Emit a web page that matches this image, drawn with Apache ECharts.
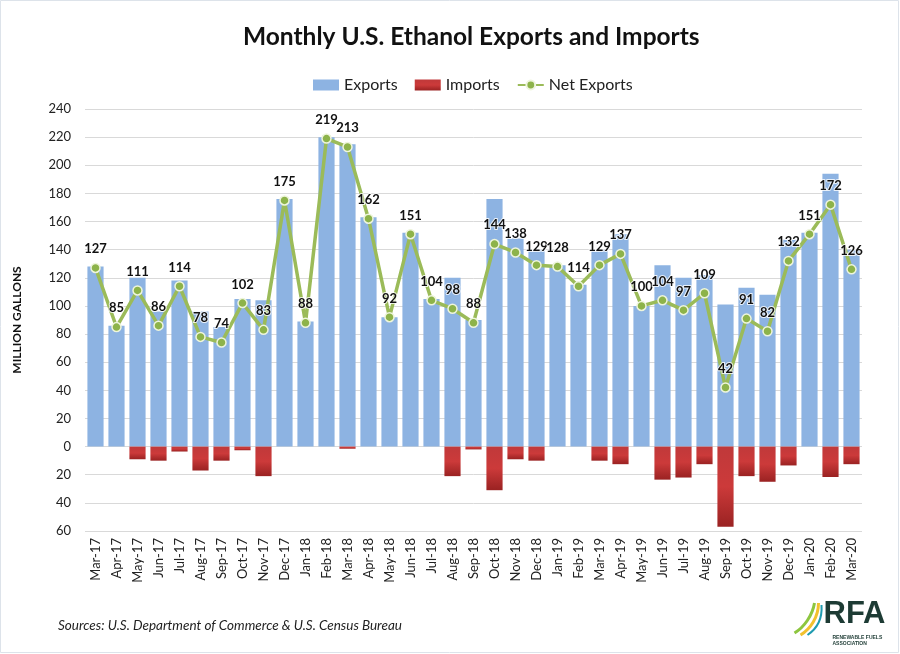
<!DOCTYPE html>
<html>
<head>
<meta charset="utf-8">
<script src="https://cdn.jsdelivr.net/npm/echarts@6/dist/echarts.min.js"></script>
<style>
html,body{margin:0;padding:0;background:#fff;}
#c{width:900px;height:654px;}
</style>
</head>
<body>
<div id="c"></div>
<script>
const months = ["Mar-17","Apr-17","May-17","Jun-17","Jul-17","Aug-17","Sep-17","Oct-17","Nov-17","Dec-17","Jan-18","Feb-18","Mar-18","Apr-18","May-18","Jun-18","Jul-18","Aug-18","Sep-18","Oct-18","Nov-18","Dec-18","Jan-19","Feb-19","Mar-19","Apr-19","May-19","Jun-19","Jul-19","Aug-19","Sep-19","Oct-19","Nov-19","Dec-19","Jan-20","Feb-20","Mar-20"];
const exportsData = [128,86,120,96,118,96,85,105,104,176,89,220,215,163,92,152,105,120,90,176,148,140,129,115,140,151,100,129,120,122,101,113,108,147,152,194,140];
const importsData = [0,0,-9,-10,-3.5,-17,-10,-2.6,-21,0,0,0,-1.5,0,0,0,0,-21,-2,-31,-9,-10,0,0,-10,-12.5,0,-23.5,-22,-12.5,-57,-21,-25,-13.4,0,-21.6,-12.5];
const netExports = [127,85,111,86,114,78,74,102,83,175,88,219,213,162,92,151,104,98,88,144,138,129,128,114,129,137,100,104,97,109,42,91,82,132,151,172,126];
const yTicks = {min:-60, max:240, interval:20};

const chart = echarts.init(document.getElementById('c'), null, {renderer:'canvas'});
const FONT = 'Lato, "Open Sans", sans-serif';
chart.setOption({
  backgroundColor:'#fff',
  animation:false,
  title:{
    text:'Monthly U.S. Ethanol Exports and Imports',
    left:238, top:20,
    textStyle:{fontFamily:FONT, fontWeight:'bold', fontSize:24.5, color:'#111'}
  },
  legend:{
    top:72, left:308,
    itemWidth:26, itemHeight:11, itemGap:17,
    textStyle:{fontFamily:FONT, fontSize:16, color:'#222'},
    data:[
      {name:'Exports', icon:'rect'},
      {name:'Imports', icon:'rect'},
      {name:'Net Exports'}
    ]
  },
  grid:{left:85, right:38, top:109, bottom:123},
  xAxis:{
    type:'category', data:months,
    axisLine:{show:false, onZero:false}, axisTick:{show:false},
    axisLabel:{rotate:90, fontFamily:FONT, fontSize:13, color:'#222', margin:7, interval:0}
  },
  yAxis:{
    type:'value', min:yTicks.min, max:yTicks.max, interval:yTicks.interval,
    name:'MILLION GALLONS', nameLocation:'middle', nameGap:62,
    nameTextStyle:{fontFamily:FONT, fontWeight:'bold', fontSize:12, color:'#111'},
    axisLine:{show:false}, axisTick:{show:false},
    axisLabel:{fontFamily:FONT, fontSize:13, color:'#222', margin:14, formatter:v=>Math.abs(v)},
    splitLine:{lineStyle:{color:'#d9d9d9', width:1}}
  },
  series:[
    {
      name:'Exports', type:'bar', stack:'t', data:exportsData, barWidth:'77%',
      itemStyle:{color:'#8db3e2'}
    },
    {
      name:'Imports', type:'bar', stack:'t', data:importsData, barWidth:'77%',
      itemStyle:{color:new echarts.graphic.LinearGradient(0,0,0,1,[{offset:0,color:'#c0393a'},{offset:0.5,color:'#cc3a3a'},{offset:1,color:'#9a2222'}])}
    },
    {
      name:'Net Exports', type:'line', data:netExports,
      symbol:'circle', symbolSize:9,
      lineStyle:{color:'#9bbb59', width:3.5},
      itemStyle:{color:'#8db34a', borderColor:'#eef5dc', borderWidth:1.5},
      label:{show:true, position:'top', distance:7, fontFamily:FONT, fontWeight:'bold', fontSize:13, color:'#111',
             textBorderColor:'rgba(255,255,255,0.8)', textBorderWidth:2},
      z:5
    }
  ],
  graphic:[
    {type:'rect', shape:{x:0.5,y:0.5,width:898,height:652}, style:{fill:'none', stroke:'#dde3ea', lineWidth:1}, silent:true},
    {type:'text', left:58, top:619, style:{text:'Sources: U.S. Department of Commerce & U.S. Census Bureau', fontFamily:FONT, fontStyle:'italic', fontSize:13.5, fill:'#222'}},
    {type:'group', left:792, top:599, children:[
      {type:'bezierCurve', shape:{x1:4,y1:36,x2:24,y2:6,cpx1:14,cpy1:30,cpx2:22,cpy2:18}, style:{stroke:'#8dc63f', lineWidth:3, fill:'none'}},
      {type:'bezierCurve', shape:{x1:10,y1:38,x2:28,y2:6,cpx1:20,cpy1:32,cpx2:28,cpy2:20}, style:{stroke:'#f2c12e', lineWidth:3, fill:'none'}},
      {type:'bezierCurve', shape:{x1:17,y1:38,x2:31,y2:8,cpx1:26,cpy1:32,cpx2:32,cpy2:22}, style:{stroke:'#1f9bb0', lineWidth:2, fill:'none'}},
      {type:'text', x:33, y:2, style:{text:'RFA', fontFamily:'"Liberation Sans", Arial, sans-serif', fontWeight:'bold', fontSize:31, fill:'#1d3b34'}},
      {type:'text', x:42, y:38, style:{text:'RENEWABLE FUELS\nASSOCIATION', fontFamily:'"Liberation Sans", Arial, sans-serif', fontWeight:'bold', fontSize:5, lineHeight:6, fill:'#1d3b34'}}
    ]}
  ]
});
</script>
</body>
</html>
